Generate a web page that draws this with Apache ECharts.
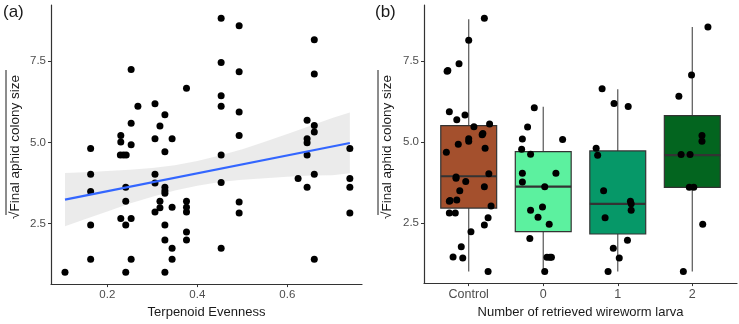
<!DOCTYPE html>
<html>
<head>
<meta charset="utf-8">
<script src="https://cdn.jsdelivr.net/npm/echarts@6/dist/echarts.min.js"></script>
<style>
  html, body { margin: 0; padding: 0; background: #fff; }
  #chart { width: 739px; height: 324px; }
</style>
</head>
<body>
<div id="chart"></div>
<script>
// panel (a): terpenoid evenness vs sqrt colony size
var evenX = [0.106,0.163,0.163,0.163,0.163,0.163,0.253,0.268,0.253,0.230,0.230,0.253,0.229,0.236,0.242,0.241,0.241,0.230,0.253,0.241,0.253,0.241,
  0.306,0.328,0.317,0.306,0.344,0.328,0.376,0.306,0.306,0.328,0.328,0.328,0.317,0.317,0.306,0.344,0.376,0.376,0.376,0.328,0.328,0.376,0.376,0.344,0.344,0.328,
  0.453,0.493,0.453,0.493,0.453,0.453,0.493,0.493,0.453,0.453,0.493,0.493,0.453,
  0.660,0.660,0.644,0.660,0.660,0.644,0.644,0.644,0.660,0.624,0.644,0.739,0.739,0.739,0.739,0.660];
var colonyA = [1.01,4.81,4.02,3.49,2.46,1.41,7.24,6.11,5.59,5.21,5.01,4.93,4.61,4.61,4.61,3.62,3.19,2.66,2.66,2.46,1.41,1.01,
  6.19,5.85,5.50,5.11,5.11,4.71,6.66,4.02,3.75,3.62,3.51,3.44,3.19,2.99,2.86,3.01,3.19,3.01,2.86,2.46,2.00,2.25,2.00,1.75,1.41,1.01,
  8.81,8.58,7.45,7.17,6.43,6.11,5.93,5.21,4.61,3.77,3.17,2.83,1.75,
  8.15,7.10,5.68,5.52,5.32,5.11,4.99,4.61,4.02,3.89,3.62,4.81,3.89,3.62,2.83,1.41];

// fitted line and its confidence band
var fitX = [0.106, 0.739];
var fitY = [3.24, 4.98];
var bandX = [0.106,0.15,0.2,0.25,0.3,0.35,0.4,0.45,0.5,0.55,0.6,0.65,0.7,0.739];
var bandHigh = [4.06,4.08,4.12,4.16,4.21,4.30,4.43,4.60,4.79,5.02,5.26,5.50,5.75,5.92];
var bandLow = [2.42,2.64,2.88,3.12,3.33,3.52,3.67,3.78,3.85,3.90,3.94,3.98,3.99,4.05];

// panel (b): boxplots by number of retrieved larva
var groups = ['Control', '0', '1', '2'];
var groupColors = ['#a4502d', '#5cf19f', '#069868', '#03651f'];
// [min, q1, median, q3, max]
var boxStats = [
  [1.0, 2.96, 3.94, 5.50, 8.78],
  [1.0, 2.23, 3.62, 4.70, 6.08],
  [1.0, 2.16, 3.09, 4.72, 6.62],
  [1.0, 3.60, 4.59, 5.81, 8.54]
];
var ctrlVals = [8.81,8.13,7.20,7.18,7.41,5.93,5.68,5.83,5.55,5.47,5.26,5.22,5.10,5.02,4.93,4.80,4.68,3.92,3.88,3.78,4.02,3.49,3.62,3.19,3.17,3.21,3.02,2.81,2.81,2.66,2.44,2.23,1.77,1.45,1.42,1.00];
var ctrlJit = [0.21,0.00,-0.28,-0.29,-0.13,-0.26,-0.16,-0.05,0.28,0.07,0.19,0.18,0.00,0.00,-0.14,0.22,-0.30,-0.17,-0.17,-0.04,0.27,-0.12,0.21,-0.25,-0.26,-0.16,0.30,-0.26,-0.18,0.26,0.21,0.03,-0.10,-0.21,-0.08,0.26];
var zeroVals = [6.05,5.46,5.09,5.07,4.77,4.62,4.03,4.03,3.76,3.62,2.89,2.99,2.68,2.46,2.02,1.44,1.44,1.44,1.00];
var zeroJit = [-0.12,-0.21,-0.28,0.26,-0.29,-0.17,-0.28,0.17,-0.28,0.02,-0.17,-0.01,-0.07,0.08,-0.18,0.05,0.09,0.11,0.02];
var oneVals = [6.64,6.18,6.09,4.80,4.59,3.49,3.17,3.09,2.89,2.66,1.97,1.72,1.42,1.00];
var oneJit = [-0.21,-0.05,0.14,-0.29,-0.27,-0.19,0.17,0.18,0.18,-0.17,0.13,-0.06,0.02,-0.13];
var twoVals = [8.54,7.06,6.41,5.20,5.02,4.61,4.61,3.60,3.60,2.46,1.00];
var twoJit = [0.21,-0.01,-0.18,0.13,0.13,-0.15,-0.03,-0.04,0.02,0.14,-0.12];

var yTicks = [2.5, 5.0, 7.5];
var xTicksA = [0.2, 0.4, 0.6];

var FONT = '"Liberation Sans", Arial, sans-serif';
var AX = '#333333';
var LAB = '#4d4d4d';

var ptsA = evenX.map(function (x, i) { return [x, colonyA[i]]; });
var ptsB = [];
[[ctrlVals, ctrlJit], [zeroVals, zeroJit], [oneVals, oneJit], [twoVals, twoJit]].forEach(function (g, gi) {
  g[0].forEach(function (v, i) { ptsB.push([gi + 1 + g[1][i], v]); });
});

function yAxisCfg(idx) {
  return {
    gridIndex: idx, type: 'value', min: 0.646, max: 9.22,
    splitLine: { show: false },
    axisLine: { show: true, lineStyle: { color: AX, width: 1.2 } },
    axisTick: { show: true, length: 3, customValues: yTicks, lineStyle: { color: AX } },
    axisLabel: { customValues: yTicks, margin: 5, color: LAB, fontSize: 11.5, fontFamily: FONT,
      formatter: function (v) { return v.toFixed(1); } }
  };
}

var chart = echarts.init(document.getElementById('chart'), null, { renderer: 'canvas' });

var option = {
  animation: false,
  backgroundColor: '#fff',
  grid: [
    { left: 51, top: 5, width: 311, height: 282 },
    { left: 424, top: 5, width: 313, height: 282 }
  ],
  xAxis: [
    {
      gridIndex: 0, type: 'value', min: 0.0749, max: 0.766,
      name: 'Terpenoid Evenness', nameLocation: 'middle', nameGap: 19,
      nameTextStyle: { color: '#1a1a1a', fontSize: 13, fontFamily: FONT },
      splitLine: { show: false },
      axisLine: { show: true, lineStyle: { color: AX, width: 1.2 } },
      axisTick: { show: true, length: 3, customValues: xTicksA, lineStyle: { color: AX } },
      axisLabel: { customValues: xTicksA, margin: 5, color: LAB, fontSize: 11.5, fontFamily: FONT,
        formatter: function (v) { return v.toFixed(1); } }
    },
    {
      gridIndex: 1, type: 'value', min: 0.4, max: 4.6,
      name: 'Number of retrieved wireworm larva', nameLocation: 'middle', nameGap: 19,
      nameTextStyle: { color: '#1a1a1a', fontSize: 13, fontFamily: FONT },
      splitLine: { show: false },
      axisLine: { show: true, lineStyle: { color: AX, width: 1.2 } },
      axisTick: { show: true, length: 3, customValues: [1, 2, 3, 4], lineStyle: { color: AX } },
      axisLabel: { customValues: [1, 2, 3, 4], margin: 5, color: LAB, fontSize: 12.5, fontFamily: FONT,
        formatter: function (v) { return groups[Math.round(v) - 1]; } }
    }
  ],
  yAxis: [yAxisCfg(0), yAxisCfg(1)],
  graphic: [
    { type: 'text', left: 3, top: 4, style: { text: '(a)', fontSize: 17, fontFamily: FONT, fill: '#1a1a1a' } },
    { type: 'text', left: 375, top: 4, style: { text: '(b)', fontSize: 17, fontFamily: FONT, fill: '#1a1a1a' } },
    { type: 'text', x: 15, y: 147, rotation: Math.PI / 2,
      style: { text: '\u221AFinal aphid colony size', fontSize: 13.5, fontFamily: FONT, fill: '#1a1a1a', align: 'center', verticalAlign: 'middle' } },
    { type: 'line', shape: { x1: 6, y1: 70, x2: 6, y2: 215 }, style: { stroke: '#1a1a1a', lineWidth: 1 } },
    { type: 'text', x: 387, y: 147, rotation: Math.PI / 2,
      style: { text: '\u221AFinal aphid colony size', fontSize: 13.5, fontFamily: FONT, fill: '#1a1a1a', align: 'center', verticalAlign: 'middle' } },
    { type: 'line', shape: { x1: 378, y1: 70, x2: 378, y2: 215 }, style: { stroke: '#1a1a1a', lineWidth: 1 } }
  ],
  series: [
    {
      type: 'custom', xAxisIndex: 0, yAxisIndex: 0, z: 1,
      data: bandX.map(function (x, i) { return [x, bandLow[i], bandHigh[i]]; }),
      renderItem: function (params, api) {
        if (params.dataIndex !== 0) return null;
        var pts = [];
        bandX.forEach(function (x, i) { pts.push(api.coord([x, bandHigh[i]])); });
        for (var i = bandX.length - 1; i >= 0; i--) pts.push(api.coord([bandX[i], bandLow[i]]));
        return { type: 'polygon', shape: { points: pts }, style: { fill: 'rgba(153,153,153,0.2)' } };
      }
    },
    {
      type: 'scatter', xAxisIndex: 0, yAxisIndex: 0, z: 3,
      symbolSize: 7, itemStyle: { color: '#000', opacity: 1 },
      data: ptsA
    },
    {
      type: 'line', xAxisIndex: 0, yAxisIndex: 0, z: 4,
      showSymbol: false, lineStyle: { color: '#3366ff', width: 2.2 },
      data: fitX.map(function (x, i) { return [x, fitY[i]]; })
    },
    {
      type: 'custom', xAxisIndex: 1, yAxisIndex: 1, z: 2,
      data: boxStats.map(function (s, i) { return [i + 1].concat(s); }),
      renderItem: function (params, api) {
        var x = api.value(0);
        var half = api.size([0.75, 0])[0] / 2;
        var pMin = api.coord([x, api.value(1)]);
        var pQ1 = api.coord([x, api.value(2)]);
        var pMed = api.coord([x, api.value(3)]);
        var pQ3 = api.coord([x, api.value(4)]);
        var pMax = api.coord([x, api.value(5)]);
        return {
          type: 'group',
          children: [
            { type: 'line', shape: { x1: pMin[0], y1: pMin[1], x2: pQ1[0], y2: pQ1[1] }, style: { stroke: '#555', lineWidth: 1.2 } },
            { type: 'line', shape: { x1: pQ3[0], y1: pQ3[1], x2: pMax[0], y2: pMax[1] }, style: { stroke: '#555', lineWidth: 1.2 } },
            { type: 'rect', shape: { x: pQ3[0] - half, y: pQ3[1], width: half * 2, height: pQ1[1] - pQ3[1] },
              style: { fill: groupColors[params.dataIndex], stroke: '#333', lineWidth: 1.2 } },
            { type: 'line', shape: { x1: pMed[0] - half, y1: pMed[1], x2: pMed[0] + half, y2: pMed[1] }, style: { stroke: '#333', lineWidth: 2.2 } }
          ]
        };
      }
    },
    {
      type: 'scatter', xAxisIndex: 1, yAxisIndex: 1, z: 3,
      symbolSize: 7, itemStyle: { color: '#000', opacity: 1 },
      data: ptsB
    }
  ]
};

chart.setOption(option);
</script>
</body>
</html>
